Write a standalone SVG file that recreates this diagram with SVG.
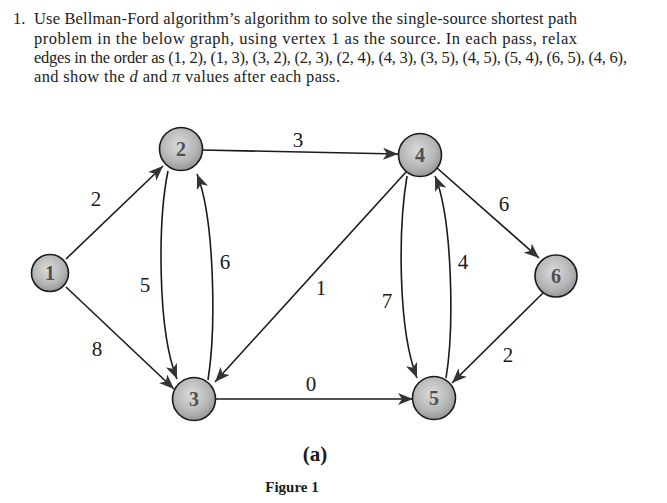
<svg xmlns="http://www.w3.org/2000/svg" width="667" height="503" viewBox="0 0 667 503">
<style>
.t{font-family:"Liberation Serif","Times New Roman",serif;font-size:16.5px;fill:#222}
.lbl{font-family:"Liberation Serif","Times New Roman",serif;font-size:21px;fill:#1a1a1a;text-anchor:middle}
.num{font-family:"Liberation Serif","Times New Roman",serif;font-size:20px;font-weight:bold;fill:#505050;text-anchor:middle}
.node{fill:url(#ng);stroke:#1a1a1a;stroke-width:1.6}
.e{fill:none;stroke:#1a1a1a;stroke-width:1.6}
.cap{font-family:"Liberation Serif","Times New Roman",serif;font-weight:bold;fill:#1a1a1a;text-anchor:middle}
</style>
<defs>
<radialGradient id="ng" cx="45%" cy="40%" r="60%">
<stop offset="0" stop-color="#dcdcdc"/>
<stop offset="0.7" stop-color="#b4b4b4"/>
<stop offset="1" stop-color="#969696"/>
</radialGradient>
<marker id="ah" markerUnits="userSpaceOnUse" markerWidth="16" markerHeight="12" refX="15" refY="6" orient="auto">
<path d="M0,0 L15,6 L0,12 L4,6 z" fill="#333"/>
</marker>
</defs>
<rect width="667" height="503" fill="#ffffff"/>
<g id="question">
<text class="t" x="13" y="24">1.</text>
<text class="t" x="34" y="24" textLength="543" lengthAdjust="spacing">Use Bellman-Ford algorithm’s algorithm to solve the single-source shortest path</text>
<text class="t" x="34" y="43.5" textLength="543" lengthAdjust="spacing">problem in the below graph, using vertex 1 as the source.  In each pass, relax</text>
<text class="t" x="34" y="63" textLength="593" lengthAdjust="spacing">edges in the order as (1, 2), (1, 3), (3, 2), (2, 3), (2, 4), (4, 3), (3, 5), (4, 5), (5, 4), (6, 5), (4, 6),</text>
<text class="t" x="34" y="82" textLength="306" lengthAdjust="spacing">and show the <tspan font-style="italic">d</tspan> and <tspan font-style="italic">π</tspan> values after each pass.</text>
</g>
<g id="edges">
<path class="e" d="M66,259 L163,166" marker-end="url(#ah)"/>
<path class="e" d="M66,287 L174,389" marker-end="url(#ah)"/>
<path class="e" d="M202,150 L398,154" marker-end="url(#ah)"/>
<path class="e" d="M168,171 C158,220 157,330 177,379" marker-end="url(#ah)"/>
<path class="e" d="M208,380 C216,330 215,220 197,174" marker-end="url(#ah)"/>
<path class="e" d="M406,172 L215,382" marker-end="url(#ah)"/>
<path class="e" d="M215,399 L413,399" marker-end="url(#ah)"/>
<path class="e" d="M407,176 C398,230 398,330 417,378" marker-end="url(#ah)"/>
<path class="e" d="M446,378 C454,330 453,220 435,176" marker-end="url(#ah)"/>
<path class="e" d="M437,168 L539,258" marker-end="url(#ah)"/>
<path class="e" d="M543,293 L452,383" marker-end="url(#ah)"/>
<text class="lbl" x="96" y="206">2</text>
<text class="lbl" x="97" y="356">8</text>
<text class="lbl" x="298" y="147">3</text>
<text class="lbl" x="145" y="292">5</text>
<text class="lbl" x="225" y="269">6</text>
<text class="lbl" x="321" y="295">1</text>
<text class="lbl" x="311" y="391">0</text>
<text class="lbl" x="387" y="308">7</text>
<text class="lbl" x="463" y="269">4</text>
<text class="lbl" x="504" y="211">6</text>
<text class="lbl" x="508" y="362">2</text>
</g>
<g id="n1"><circle class="node" cx="50" cy="273" r="18.5"/><text class="num" x="50" y="280">1</text></g>
<g id="n2"><circle class="node" cx="181" cy="149" r="21.5"/><text class="num" x="181" y="156">2</text></g>
<g id="n3"><circle class="node" cx="194" cy="399" r="21.5"/><text class="num" x="194" y="406">3</text></g>
<g id="n4"><circle class="node" cx="420" cy="155" r="21.5"/><text class="num" x="420" y="162">4</text></g>
<g id="n5"><circle class="node" cx="434" cy="398" r="21.5"/><text class="num" x="434" y="405">5</text></g>
<g id="n6"><circle class="node" cx="556" cy="276" r="21"/><text class="num" x="556" y="283">6</text></g>
<g id="caption">
<text class="cap" x="315" y="461" font-size="21">(a)</text>
<text class="cap" x="292" y="492" font-size="15">Figure 1</text>
</g>
</svg>
